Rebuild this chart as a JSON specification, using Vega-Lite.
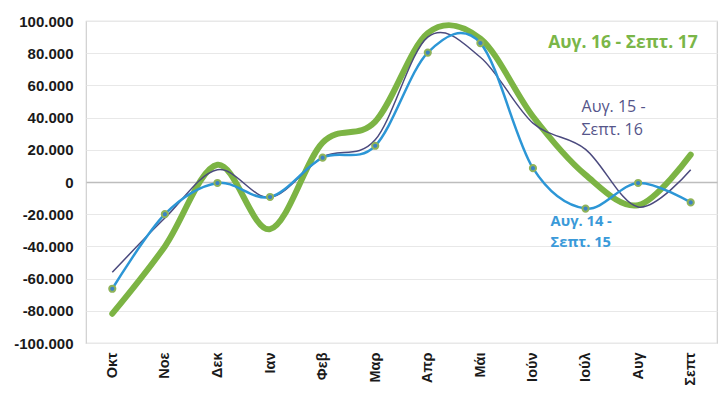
{
  "$schema": "https://vega.github.io/schema/vega-lite/v6.json",
  "width": 631,
  "height": 322,
  "autosize": {"type": "none"},
  "padding": {"left": 86, "top": 21, "right": 4, "bottom": 71},
  "background": "white",
  "config": {
    "view": {"stroke": "#cfcfcf", "strokeWidth": 1.2},
    "axis": {"labelFont": "Liberation Sans", "labelFontWeight": "bold", "labelColor": "#1a1a1a"}
  },
  "datasets": {
    "series": [
      {"month": "Οκτ", "series": "Αυγ. 14 - Σεπτ. 15", "value": -66300},
      {"month": "Νοε", "series": "Αυγ. 14 - Σεπτ. 15", "value": -20000},
      {"month": "Δεκ", "series": "Αυγ. 14 - Σεπτ. 15", "value": -600},
      {"month": "Ιαν", "series": "Αυγ. 14 - Σεπτ. 15", "value": -9300},
      {"month": "Φεβ", "series": "Αυγ. 14 - Σεπτ. 15", "value": 15100},
      {"month": "Μαρ", "series": "Αυγ. 14 - Σεπτ. 15", "value": 22500},
      {"month": "Απρ", "series": "Αυγ. 14 - Σεπτ. 15", "value": 80400},
      {"month": "Μάι", "series": "Αυγ. 14 - Σεπτ. 15", "value": 86300},
      {"month": "Ιούν", "series": "Αυγ. 14 - Σεπτ. 15", "value": 8600},
      {"month": "Ιούλ", "series": "Αυγ. 14 - Σεπτ. 15", "value": -16500},
      {"month": "Αυγ", "series": "Αυγ. 14 - Σεπτ. 15", "value": -600},
      {"month": "Σεπτ", "series": "Αυγ. 14 - Σεπτ. 15", "value": -12700},
      {"month": "Οκτ", "series": "Αυγ. 15 - Σεπτ. 16", "value": -56100},
      {"month": "Νοε", "series": "Αυγ. 15 - Σεπτ. 16", "value": -22400},
      {"month": "Δεκ", "series": "Αυγ. 15 - Σεπτ. 16", "value": 7600},
      {"month": "Ιαν", "series": "Αυγ. 15 - Σεπτ. 16", "value": -9500},
      {"month": "Φεβ", "series": "Αυγ. 15 - Σεπτ. 16", "value": 15500},
      {"month": "Μαρ", "series": "Αυγ. 15 - Σεπτ. 16", "value": 26200},
      {"month": "Απρ", "series": "Αυγ. 15 - Σεπτ. 16", "value": 90000},
      {"month": "Μάι", "series": "Αυγ. 15 - Σεπτ. 16", "value": 77500},
      {"month": "Ιούν", "series": "Αυγ. 15 - Σεπτ. 16", "value": 36600},
      {"month": "Ιούλ", "series": "Αυγ. 15 - Σεπτ. 16", "value": 20300},
      {"month": "Αυγ", "series": "Αυγ. 15 - Σεπτ. 16", "value": -15500},
      {"month": "Σεπτ", "series": "Αυγ. 15 - Σεπτ. 16", "value": 7600},
      {"month": "Οκτ", "series": "Αυγ. 16 - Σεπτ. 17", "value": -81800},
      {"month": "Νοε", "series": "Αυγ. 16 - Σεπτ. 17", "value": -40000},
      {"month": "Δεκ", "series": "Αυγ. 16 - Σεπτ. 17", "value": 10700},
      {"month": "Ιαν", "series": "Αυγ. 16 - Σεπτ. 17", "value": -29300},
      {"month": "Φεβ", "series": "Αυγ. 16 - Σεπτ. 17", "value": 24500},
      {"month": "Μαρ", "series": "Αυγ. 16 - Σεπτ. 17", "value": 37500},
      {"month": "Απρ", "series": "Αυγ. 16 - Σεπτ. 17", "value": 92500},
      {"month": "Μάι", "series": "Αυγ. 16 - Σεπτ. 17", "value": 89000},
      {"month": "Ιούν", "series": "Αυγ. 16 - Σεπτ. 17", "value": 40700},
      {"month": "Ιούλ", "series": "Αυγ. 16 - Σεπτ. 17", "value": 4400},
      {"month": "Αυγ", "series": "Αυγ. 16 - Σεπτ. 17", "value": -14400},
      {"month": "Σεπτ", "series": "Αυγ. 16 - Σεπτ. 17", "value": 17000}
    ],
    "labels": [
      {"series": "Αυγ. 16 - Σεπτ. 17", "month": "Σεπτ", "value": 86500, "text": "Αυγ. 16 - Σεπτ. 17"},
      {"series": "Αυγ. 15 - Σεπτ. 16", "month": "Ιούλ", "value": 46600, "text": "Αυγ. 15 -"},
      {"series": "Αυγ. 15 - Σεπτ. 16", "month": "Ιούλ", "value": 32500, "text": "Σεπτ. 16"},
      {"series": "Αυγ. 14 - Σεπτ. 15", "month": "Ιούλ", "value": -24700, "text": "Αυγ. 14 -"},
      {"series": "Αυγ. 14 - Σεπτ. 15", "month": "Ιούλ", "value": -37700, "text": "Σεπτ. 15"}
    ]
  },
  "encoding": {
    "x": {
      "field": "month",
      "type": "ordinal",
      "sort": ["Οκτ", "Νοε", "Δεκ", "Ιαν", "Φεβ", "Μαρ", "Απρ", "Μάι", "Ιούν", "Ιούλ", "Αυγ", "Σεπτ"],
      "scale": {"type": "point", "padding": 0.5},
      "axis": {"title": null, "labelAngle": -90, "labelFontSize": 14.5, "labelPadding": 9, "ticks": false, "domain": false, "grid": false}
    },
    "y": {
      "field": "value",
      "type": "quantitative",
      "scale": {"domain": [-100000, 100000], "nice": false, "zero": false},
      "axis": {
        "title": null,
        "values": [-100000, -80000, -60000, -40000, -20000, 0, 20000, 40000, 60000, 80000, 100000],
        "labelExpr": "replace(replace(format(datum.value, ','), ',', '.'), '\u2212', '-')",
        "labelFontSize": 15,
        "labelPadding": 13,
        "ticks": false,
        "domain": false,
        "grid": true,
        "gridColor": {"condition": {"test": "datum.value === 0", "value": "#bdbdbd"}, "value": "#e8e8e8"},
        "gridWidth": {"condition": {"test": "datum.value === 0", "value": 1.5}, "value": 1}
      }
    }
  },
  "layer": [
    {
      "data": {"name": "series"},
      "transform": [{"filter": "datum.series === 'Αυγ. 16 - Σεπτ. 17'"}],
      "mark": {"type": "line", "interpolate": "cardinal", "tension": 0, "color": "#7cb444", "strokeWidth": 6, "strokeCap": "round"}
    },
    {
      "data": {"name": "series"},
      "transform": [{"filter": "datum.series === 'Αυγ. 15 - Σεπτ. 16'"}],
      "mark": {"type": "line", "interpolate": "cardinal", "tension": 0, "color": "#4b4a7e", "strokeWidth": 1.5}
    },
    {
      "data": {"name": "series"},
      "transform": [{"filter": "datum.series === 'Αυγ. 14 - Σεπτ. 15'"}],
      "mark": {"type": "line", "interpolate": "cardinal", "tension": 0, "color": "#2c96d6", "strokeWidth": 2.5}
    },
    {
      "data": {"name": "series"},
      "transform": [{"filter": "datum.series === 'Αυγ. 14 - Σεπτ. 15'"}],
      "mark": {"type": "point", "filled": true, "shape": "circle", "size": 38, "fill": "#3b82c4", "stroke": "#8fb35a", "strokeWidth": 2, "opacity": 1}
    },
    {
      "data": {"name": "labels"},
      "transform": [{"filter": "datum.series === 'Αυγ. 16 - Σεπτ. 17'"}],
      "mark": {"type": "text", "align": "right", "baseline": "middle", "dx": 7, "font": "Open Sans", "fontSize": 17.5, "fontWeight": "bold", "color": "#7ab648"},
      "encoding": {"text": {"field": "text"}}
    },
    {
      "data": {"name": "labels"},
      "transform": [{"filter": "datum.series === 'Αυγ. 15 - Σεπτ. 16'"}],
      "mark": {"type": "text", "align": "left", "baseline": "middle", "dx": -4, "font": "Open Sans", "fontSize": 16, "color": "#55558a"},
      "encoding": {"text": {"field": "text"}}
    },
    {
      "data": {"name": "labels"},
      "transform": [{"filter": "datum.series === 'Αυγ. 14 - Σεπτ. 15'"}],
      "mark": {"type": "text", "align": "left", "baseline": "middle", "dx": -35, "font": "Open Sans", "fontSize": 14.7, "fontWeight": "bold", "color": "#3a9ad9"},
      "encoding": {"text": {"field": "text"}}
    }
  ]
}
